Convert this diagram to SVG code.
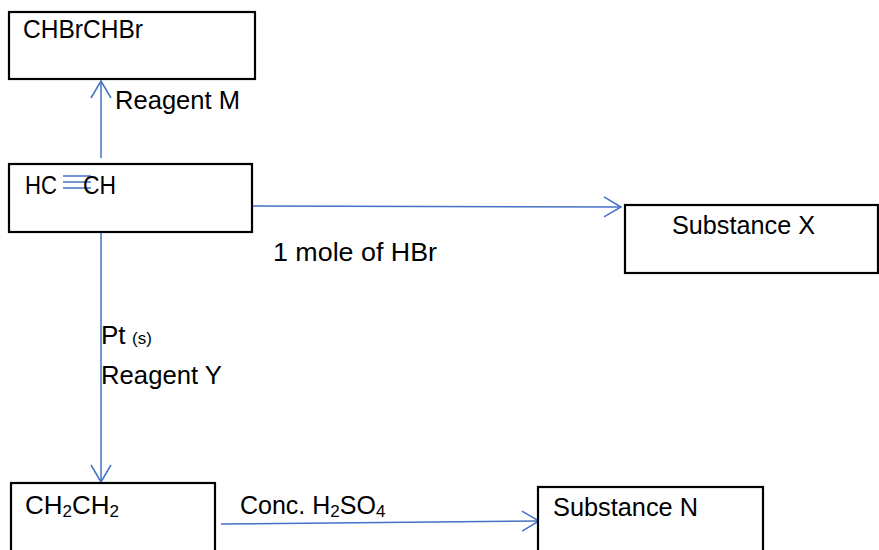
<svg xmlns="http://www.w3.org/2000/svg" width="879" height="550" viewBox="0 0 879 550">
<style>
.box{fill:#fff;stroke:#000;stroke-width:2.2}
.t{font-family:"Liberation Sans",Arial,sans-serif;font-size:26px;fill:#000}
.sm{font-size:17px}
.con{stroke:#4472C4;stroke-width:1.5;fill:none}
</style>
<defs>
<marker id="arr" viewBox="0 0 20 24" refX="18" refY="12" markerWidth="20" markerHeight="24" markerUnits="userSpaceOnUse" orient="auto">
<path d="M1,2 L18,12 L1,22" fill="none" stroke="#4472C4" stroke-width="1.5"/>
</marker>
</defs>
<rect width="879" height="550" fill="#fff"/>
<g id="connectors">
<line class="con" x1="101" y1="158" x2="101" y2="81" marker-end="url(#arr)"/>
<line class="con" x1="253" y1="206" x2="621" y2="207" marker-end="url(#arr)"/>
<line class="con" x1="101" y1="233" x2="101" y2="482" marker-end="url(#arr)"/>
<line class="con" x1="221" y1="524" x2="539" y2="521" marker-end="url(#arr)"/>
</g>
<g id="labels">
<text class="t" x="115" y="109" textLength="125" lengthAdjust="spacingAndGlyphs">Reagent M</text>
<text class="t" x="273" y="261" textLength="164" lengthAdjust="spacingAndGlyphs">1 mole of HBr</text>
<text class="t" x="101" y="344">Pt<tspan class="sm" x="132">(s)</tspan></text>
<text class="t" x="101" y="384" textLength="121" lengthAdjust="spacingAndGlyphs">Reagent Y</text>
<text class="t" x="240" y="514" style="font-size:25px">Conc. H<tspan class="sm" dy="3">2</tspan><tspan dy="-3">SO</tspan><tspan class="sm" dy="3">4</tspan></text>
</g>
<g id="node-chbrchbr">
<rect class="box" x="9" y="12" width="246" height="67"/>
<text class="t" x="23" y="38" textLength="120" lengthAdjust="spacingAndGlyphs">CHBrCHBr</text>
</g>
<g id="node-ethyne">
<rect class="box" x="9" y="164" width="243" height="68"/>
<text class="t" x="25" y="194" textLength="32" lengthAdjust="spacingAndGlyphs">HC</text>
<line class="con" x1="63" y1="176" x2="91" y2="176"/>
<line class="con" x1="63" y1="182" x2="91" y2="182"/>
<line class="con" x1="63" y1="188" x2="91" y2="188"/>
<text class="t" x="83" y="194" textLength="33" lengthAdjust="spacingAndGlyphs">CH</text>
</g>
<g id="node-x">
<rect class="box" x="625" y="205" width="253" height="68"/>
<text class="t" x="672" y="234" textLength="143" lengthAdjust="spacingAndGlyphs">Substance X</text>
</g>
<g id="node-ethene">
<rect class="box" x="11" y="483" width="204" height="80"/>
<text class="t" x="25" y="514">CH<tspan class="sm" dy="3">2</tspan><tspan dy="-3">CH</tspan><tspan class="sm" dy="3">2</tspan></text>
</g>
<g id="node-n">
<rect class="box" x="538" y="487" width="225" height="80"/>
<text class="t" x="553" y="516" textLength="145" lengthAdjust="spacingAndGlyphs">Substance N</text>
</g>
</svg>
